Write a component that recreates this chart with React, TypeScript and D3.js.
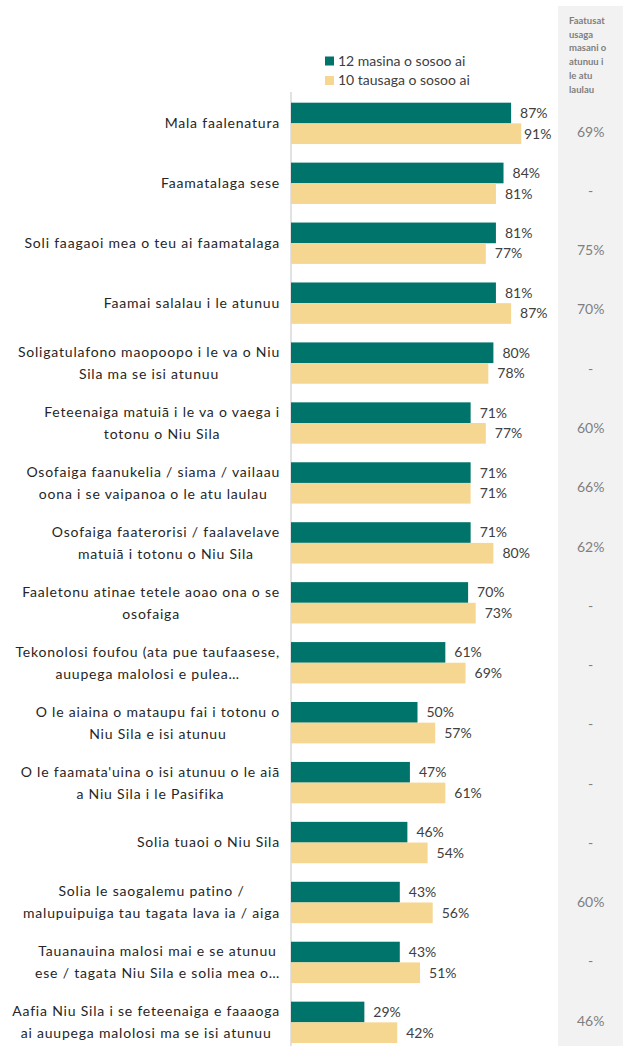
import React, { useEffect, useRef } from "react";
import * as d3 from "d3";

const categories: string[][] = [
  ["Mala faalenatura"],
  ["Faamatalaga sese"],
  ["Soli faagaoi mea o teu ai faamatalaga"],
  ["Faamai salalau i le atunuu"],
  ["Soligatulafono maopoopo i le va o Niu", "Sila ma se isi atunuu"],
  ["Feteenaiga matuiā i le va o vaega i", "totonu o Niu Sila"],
  ["Osofaiga faanukelia / siama / vailaau", "oona i se vaipanoa o le atu laulau"],
  ["Osofaiga faaterorisi / faalavelave", "matuiā i totonu o Niu Sila"],
  ["Faaletonu atinae tetele aoao ona o se", "osofaiga"],
  ["Tekonolosi foufou (ata pue taufaasese,", "auupega malolosi e pulea…"],
  ["O le aiaina o mataupu fai i totonu o", "Niu Sila e isi atunuu"],
  ["O le faamata'uina o isi atunuu o le aiā", "a Niu Sila i le Pasifika"],
  ["Solia tuaoi o Niu Sila"],
  ["Solia le saogalemu patino /", "malupuipuiga tau tagata lava ia / aiga"],
  ["Tauanauina malosi mai e se atunuu", "ese / tagata Niu Sila e solia mea o…"],
  ["Aafia Niu Sila i se feteenaiga e faaaoga", "ai auupega malolosi ma se isi atunuu"],
];

const months12: number[] = [87, 84, 81, 81, 80, 71, 71, 71, 70, 61, 50, 47, 46, 43, 43, 29];
const years10: number[] = [91, 81, 77, 87, 78, 77, 71, 80, 73, 69, 57, 61, 54, 56, 51, 42];
const globalAvg: (number | null)[] = [69, null, 75, 70, null, 60, 66, 62, null, null, null, null, null, 60, null, 46];

const seriesNames = ["12 masina o sosoo ai", "10 tausaga o sosoo ai"];
const headerLines = ["Faatusat", "usaga", "masani o", "atunuu i", "le atu", "laulau"];

const W = 625;
const H = 1046;
const TEAL = "#00746B";
const YELLOW = "#F5D792";
const FONT = "Lato, 'Open Sans', sans-serif";

export default function App() {
  const ref = useRef<SVGSVGElement>(null);

  useEffect(() => {
    document.body.style.margin = "0";
    const svg = d3.select(ref.current);
    svg.selectAll("*").remove();

    const idx = categories.map((_, i) => String(i));
    const x = d3.scaleLinear().domain([0, 100]).range([291, 544]);
    const y = d3.scaleBand<string>().domain(idx).range([93.4, 1052.3]).paddingInner(0.31).paddingOuter(0.155);
    const ySub = d3.scaleBand<string>().domain(["a", "b"]).range([0, y.bandwidth()]);
    const yTable = d3.scaleBand<string>().domain(idx).range([102.1, 1050.4]);

    // gray column
    svg.append("rect").attr("x", 558).attr("y", 6).attr("width", 65).attr("height", H - 6).attr("fill", "#F2F2F2");

    // header
    const hdr = svg.append("text").attr("font-family", FONT).attr("font-size", 9.5).attr("font-weight", 700).attr("fill", "#7F7F7F");
    headerLines.forEach((l, i) => {
      hdr.append("tspan").attr("x", 569).attr("y", 24 + i * 13.7).text(l);
    });

    // axis line
    svg.append("line").attr("x1", 291).attr("x2", 291).attr("y1", 92).attr("y2", H).attr("stroke", "#D9D9D9").attr("stroke-width", 1.5);

    // bars
    const series = [months12, years10];
    const colors = [TEAL, YELLOW];
    series.forEach((vals, s) => {
      const key = s === 0 ? "a" : "b";
      const g = svg.append("g");
      g.selectAll("rect")
        .data(vals)
        .join("rect")
        .attr("x", x(0))
        .attr("y", (_, i) => (y(String(i)) as number) + (ySub(key) as number))
        .attr("width", (d) => x(d) - x(0))
        .attr("height", ySub.bandwidth())
        .attr("fill", colors[s]);
      g.selectAll("text")
        .data(vals)
        .join("text")
        .attr("x", (d) => Math.min(x(d) + 9, 524))
        .attr("y", (_, i) => (y(String(i)) as number) + (ySub(key) as number) + ySub.bandwidth() / 2)
        .attr("dy", "0.35em")
        .attr("font-family", FONT)
        .attr("font-size", 14)
        .attr("fill", "#404040")
        .text((d) => `${d}%`);
    });

    // category labels
    const right = 280;
    categories.forEach((lines, i) => {
      const cy = (y(String(i)) as number) + y.bandwidth() / 2;
      const lh = 22;
      const t = svg
        .append("text")
        .attr("font-family", FONT)
        .attr("font-size", 14)
        .attr("letter-spacing", 0.8)
        .attr("fill", "#262626")
        .attr("text-anchor", "middle");
      const spans = lines.map((l, j) =>
        t.append("tspan").attr("y", cy + (j - (lines.length - 1) / 2) * lh).attr("dy", "0.35em").text(l)
      );
      const maxW = d3.max(spans, (sp) => (sp.node() as SVGTSpanElement).getComputedTextLength()) || 0;
      spans.forEach((sp) => sp.attr("x", right - maxW / 2));
    });

    // table values
    svg.append("g")
      .selectAll("text")
      .data(globalAvg)
      .join("text")
      .attr("x", 590.7)
      .attr("y", (_, i) => (yTable(String(i)) as number) + yTable.bandwidth() / 2)
      .attr("dy", "0.35em")
      .attr("text-anchor", "middle")
      .attr("font-family", FONT)
      .attr("font-size", 14)
      .attr("fill", "#7F7F7F")
      .text((d) => (d == null ? "-" : `${d}%`));

    // legend
    const lg = svg.append("g");
    seriesNames.forEach((n, i) => {
      const ly = 61 + i * 19.5;
      lg.append("rect").attr("x", 325).attr("y", ly - 4.5).attr("width", 9).attr("height", 9).attr("fill", colors[i]);
      lg.append("text").attr("x", 338).attr("y", ly).attr("dy", "0.35em").attr("font-family", FONT).attr("font-size", 14).attr("fill", "#404040").text(n);
    });
  }, []);

  return <svg ref={ref} width={W} height={H} style={{ display: "block" }} />;
}
